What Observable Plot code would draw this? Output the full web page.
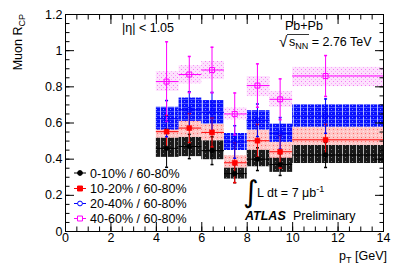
<!DOCTYPE html>
<html><head><meta charset="utf-8">
<script src="https://cdn.jsdelivr.net/npm/d3@7"></script>
<script src="https://cdn.jsdelivr.net/npm/@observablehq/plot@0.6"></script>
<style>body{margin:0;background:#fff} svg{display:block}</style>
</head><body><div id="chart"></div>
<script>
// pT bins [GeV] and point positions
const binLo = [4, 5, 6, 7, 8, 9, 10];
const binHi = [5, 6, 7, 8, 9, 10, 14];
const ptMean = [4.45, 5.45, 6.45, 7.45, 8.45, 9.45, 11.45];

// 0-10% / 60-80%
const c0Val   = [0.460, 0.470, 0.447, 0.320, 0.400, 0.370, 0.423];
const c0Stat  = [0.105, 0.067, 0.077, 0.050, 0.063, 0.060, 0.069];
const c0SysLo = [0.410, 0.414, 0.397, 0.290, 0.358, 0.327, 0.376];
const c0SysHi = [0.517, 0.522, 0.502, 0.355, 0.450, 0.413, 0.476];
// 10-20% / 60-80%
const c1Val   = [0.552, 0.572, 0.548, 0.380, 0.502, 0.441, 0.507];
const c1Stat  = [0.090, 0.080, 0.080, 0.110, 0.090, 0.090, 0.085];
const c1SysLo = [0.517, 0.520, 0.502, 0.350, 0.450, 0.405, 0.476];
const c1SysHi = [0.590, 0.615, 0.594, 0.420, 0.560, 0.493, 0.577];
// 20-40% / 60-80%
const c2Val   = [0.624, 0.673, 0.659, 0.495, 0.615, 0.543, 0.638];
const c2Stat  = [0.100, 0.100, 0.110, 0.090, 0.090, 0.087, 0.095];
const c2SysLo = [0.561, 0.609, 0.594, 0.448, 0.561, 0.493, 0.577];
const c2SysHi = [0.687, 0.738, 0.724, 0.542, 0.668, 0.594, 0.700];
// 40-60% / 60-80%
const c3Val   = [0.829, 0.868, 0.893, 0.650, 0.807, 0.731, 0.860];
const c3Stat  = [0.220, 0.100, 0.126, 0.116, 0.120, 0.113, 0.113];
const c3SysLo = [0.775, 0.816, 0.840, 0.617, 0.746, 0.687, 0.801];
const c3SysHi = [0.884, 0.917, 0.940, 0.683, 0.857, 0.775, 0.908];

const seriesLabels = ["0-10% / 60-80%", "10-20% / 60-80%", "20-40% / 60-80%", "40-60% / 60-80%"];
const xMajor = [0, 2, 4, 6, 8, 10, 12, 14];
const yMajor = [0, 0.2, 0.4, 0.6, 0.8, 1, 1.2];
const xMinor = d3.range(0, 14.001, 0.5);
const yMinor = d3.range(0, 1.2001, 0.05);

const series = [
  {key: "c0", val: c0Val, stat: c0Stat, lo: c0SysLo, hi: c0SysHi, color: "#000000", symbol: "circle", r: 2.4, filled: true},
  {key: "c1", val: c1Val, stat: c1Stat, lo: c1SysLo, hi: c1SysHi, color: "#ff0000", symbol: "square", r: 2.8, filled: true},
  {key: "c2", val: c2Val, stat: c2Stat, lo: c2SysLo, hi: c2SysHi, color: "#0000ff", symbol: "circle", r: 2.4, filled: false},
  {key: "c3", val: c3Val, stat: c3Stat, lo: c3SysLo, hi: c3SysHi, color: "#ff00ff", symbol: "square", r: 2.8, filled: false}
];
series.forEach((s, k) => {
  s.label = seriesLabels[k];
  s.rows = binLo.map((b, i) => ({x1: b, x2: binHi[i], xm: ptMean[i], v: s.val[i], e: s.stat[i], lo: s.lo[i], hi: s.hi[i]}));
});

const cap = {draw(ctx, size) { const r = Math.sqrt(size) / 2; ctx.moveTo(-r, 0); ctx.lineTo(r, 0); }};

const marks = [];
for (const s of series) {
  marks.push(Plot.rect(s.rows, {x1: "x1", x2: "x2", y1: "lo", y2: "hi", fill: `url(#pat-${s.key})`}));
}
for (const s of series) {
  marks.push(Plot.ruleX(s.rows, {x: "xm", y1: d => d.v - d.e, y2: d => d.v + d.e, stroke: s.color, strokeWidth: 1}));
  marks.push(Plot.ruleY(s.rows, {y: "v", x1: "x1", x2: "x2", stroke: s.color, strokeWidth: 1}));
  marks.push(Plot.dot(s.rows, {x: "xm", y: d => d.v + d.e, symbol: cap, r: 1.7, stroke: s.color}));
  marks.push(Plot.dot(s.rows, {x: "xm", y: d => d.v - d.e, symbol: cap, r: 1.7, stroke: s.color}));
}
for (const s of series) {
  marks.push(Plot.dot(s.rows, {x: "xm", y: "v", symbol: s.symbol, r: s.r,
    fill: s.filled ? s.color : "none", stroke: s.color, strokeWidth: s.filled ? 0.5 : 1}));
}

const chart = Plot.plot({
  width: 407, height: 276,
  marginLeft: 65, marginRight: 24, marginTop: 14, marginBottom: 45,
  x: {domain: [0, 14]},
  y: {domain: [0, 1.2]},
  style: {fontFamily: "'Liberation Sans', Arial, sans-serif", fontSize: "12.5px", color: "#000", background: "#fff"},
  marks: [
    ...marks,
    Plot.frame({stroke: "#000", strokeWidth: 1}),
    Plot.axisX({ticks: xMajor, tickSize: 0, tickPadding: 2, label: null, tickFormat: d => String(d)}),
    Plot.axisX({ticks: xMajor, tickSize: -9, tickFormat: () => "", label: null}),
    Plot.axisX({ticks: xMinor, tickSize: -4.5, tickFormat: () => "", label: null}),
    Plot.axisX({anchor: "top", ticks: xMajor, tickSize: -9, tickFormat: () => "", label: null}),
    Plot.axisX({anchor: "top", ticks: xMinor, tickSize: -4.5, tickFormat: () => "", label: null}),
    Plot.axisY({ticks: yMajor, tickSize: 0, tickPadding: 3, label: null, tickFormat: d => String(d)}),
    Plot.axisY({ticks: yMajor, tickSize: -9, tickFormat: () => "", label: null}),
    Plot.axisY({ticks: yMinor, tickSize: -4.5, tickFormat: () => "", label: null}),
    Plot.axisY({anchor: "right", ticks: yMajor, tickSize: -9, tickFormat: () => "", label: null}),
    Plot.axisY({anchor: "right", ticks: yMinor, tickSize: -4.5, tickFormat: () => "", label: null})
  ]
});
document.getElementById("chart").appendChild(chart);

const svg = d3.select(chart);
const defs = svg.insert("defs", ":first-child");
function pat(id, w, h, bg, build) {
  const p = defs.append("pattern").attr("id", id).attr("patternUnits", "userSpaceOnUse").attr("width", w).attr("height", h);
  p.append("rect").attr("width", w).attr("height", h).attr("fill", bg);
  build(p);
}
pat("pat-c0", 7, 4, "#1a1a1a", p => {
  p.append("rect").attr("x", 6).attr("y", 0).attr("width", 1).attr("height", 4).attr("fill", "#b8b8b8");
  p.append("rect").attr("x", 2).attr("y", 1).attr("width", 1).attr("height", 1).attr("fill", "#777");
});
pat("pat-c1", 4, 4, "#ffc6c6", p => {
  p.append("rect").attr("x", 1).attr("y", 1).attr("width", 1).attr("height", 1).attr("fill", "#ff6a6a");
  p.append("rect").attr("x", 3).attr("y", 3).attr("width", 1).attr("height", 1).attr("fill", "#ffe8e8");
});
pat("pat-c2", 7, 4, "#0810ff", p => {
  p.append("rect").attr("x", 0).attr("y", 3).attr("width", 7).attr("height", 1).attr("fill", "#4a54ff");
  p.append("rect").attr("x", 6).attr("y", 0).attr("width", 1).attr("height", 4).attr("fill", "#b4b8ff");
  p.append("rect").attr("x", 2).attr("y", 1).attr("width", 1).attr("height", 1).attr("fill", "#8088ff");
});
pat("pat-c3", 4, 4, "#fde2fd", p => {
  p.append("rect").attr("x", 1).attr("y", 1).attr("width", 1).attr("height", 1).attr("fill", "#f27af2");
  p.append("rect").attr("x", 3).attr("y", 3).attr("width", 1).attr("height", 1).attr("fill", "#f7a8f7");
});

const font = "'Liberation Sans', Arial, sans-serif";
const g = svg.append("g").attr("font-family", font).attr("font-size", 12.5).attr("fill", "#000").attr("text-anchor", "start");

// axis titles
const yt = g.append("text").attr("transform", "translate(22,14) rotate(-90)").attr("text-anchor", "end");
yt.append("tspan").text("Muon R");
yt.append("tspan").attr("font-size", 9).attr("dy", 3).text("CP");
const xt = g.append("text").attr("x", 387).attr("y", 260).attr("text-anchor", "end");
xt.append("tspan").text("p");
xt.append("tspan").attr("font-size", 9).attr("dy", 3).text("T");
xt.append("tspan").attr("dy", -3).text(" [GeV]");

// annotations
g.append("text").attr("x", 122).attr("y", 32).text("|η| < 1.05");
g.append("text").attr("x", 285).attr("y", 30).text("Pb+Pb");
g.append("text").attr("x", 279).attr("y", 47).attr("font-size", 15).text("√");
const st = g.append("text").attr("x", 289).attr("y", 46);
st.append("tspan").text("s");
st.append("tspan").attr("font-size", 9).attr("dy", 3).text("NN");
st.append("tspan").attr("dy", -3).text(" = 2.76 TeV");
g.append("line").attr("x1", 287).attr("x2", 309).attr("y1", 34.5).attr("y2", 34.5).attr("stroke", "#000").attr("stroke-width", 0.8);

g.append("text").attr("x", 243).attr("y", 202).attr("font-size", 30).attr("font-family", "'DejaVu Sans', sans-serif").text("∫");
const lt = g.append("text").attr("x", 257).attr("y", 197);
lt.append("tspan").text("L dt = 7 μb");
lt.append("tspan").attr("font-size", 9).attr("dy", -5).text("-1");
g.append("text").attr("x", 245).attr("y", 220).attr("font-weight", "bold").attr("font-style", "italic").text("ATLAS");
g.append("text").attr("x", 293).attr("y", 220).text("Preliminary");

// legend
const legY = [173, 188.5, 203.5, 218.5];
series.forEach((s, i) => {
  const y = legY[i];
  g.append("line").attr("x1", 74).attr("x2", 86).attr("y1", y).attr("y2", y).attr("stroke", s.color).attr("stroke-width", 1);
  const sym = d3.symbol(s.symbol === "circle" ? d3.symbolCircle : d3.symbolSquare, Math.PI * s.r * s.r);
  g.append("path").attr("d", sym()).attr("transform", `translate(80,${y})`)
    .attr("fill", s.filled ? s.color : "#fff").attr("stroke", s.color).attr("stroke-width", 1);
  g.append("text").attr("x", 90).attr("y", y).attr("dy", "0.36em").text(s.label);
});
</script></body></html>
